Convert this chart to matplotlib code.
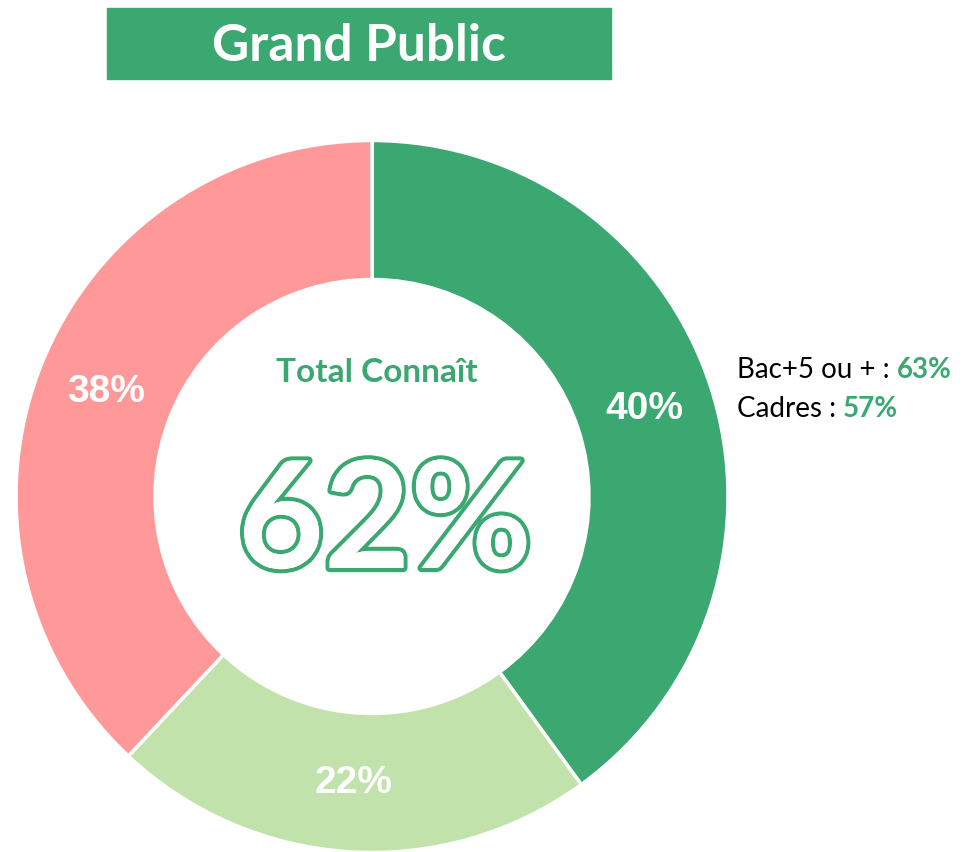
import matplotlib.pyplot as plt
import matplotlib.patheffects as pe
from matplotlib.patches import Rectangle

# ---------- Data ----------
labels = ["Connaît bien", "Connaît de nom", "Ne connaît pas"]
values = [40, 22, 38]
colors = ["#3aa870", "#c1e2ab", "#ff9999"]
title = "Grand Public"
total_label = "Total Connaît"
total_value = "62%"
side_labels = ["Bac+5 ou + : ", "Cadres : "]
side_values = ["63%", "57%"]

W, H = 964, 853
green = "#3aa870"

fig = plt.figure(figsize=(W / 100, H / 100), dpi=100)
ax = fig.add_axes([0, 0, 1, 1])


def Y(y):
    # pixel row from top -> data y
    return H - y


# ---------- Donut ----------
cx, cy, r_out, r_in = 372, Y(497.5), 356, 217
wedges, _, autotexts = ax.pie(
    values, colors=colors, startangle=90, counterclock=False,
    center=(cx, cy), radius=r_out, frame=True,
    autopct="%d%%", pctdistance=(r_out + r_in) / 2 / r_out,
    wedgeprops=dict(width=r_out - r_in, edgecolor="white", linewidth=2.5),
    textprops=dict(color="white", fontsize=28, fontweight="bold",
                   family="Liberation Sans"),
)
ax.set_xlim(0, W)
ax.set_ylim(0, H)
ax.set_aspect("auto")
ax.axis("off")

# ---------- Title box ----------
ax.add_patch(Rectangle((107, Y(80)), 504, 71, color=green, zorder=3))
ax.text(359, Y(46), title, color="white", fontsize=37, fontweight="bold",
        family="Lato", ha="center", va="center", zorder=4)

# ---------- Centre text ----------
ax.text(377, Y(372), total_label, color=green, fontsize=24, fontweight="bold",
        family="Lato", ha="center", va="center")
ax.text(385, Y(526), total_value, color="white", fontsize=107,
        fontweight="bold", family="Lato", ha="center", va="center",
        path_effects=[pe.withStroke(linewidth=6, foreground=green), pe.Normal()])

# ---------- Side notes ----------
renderer = fig.canvas.get_renderer()
for i, (lab, val) in enumerate(zip(side_labels, side_values)):
    y = Y(370 + i * 39)
    t = ax.text(737, y, lab, color="black", fontsize=20, family="Lato",
                ha="left", va="center")
    bb = t.get_window_extent(renderer=renderer)
    x_next = ax.transData.inverted().transform((bb.x1, bb.y0))[0]
    ax.text(x_next, y, val, color=green, fontsize=20, fontweight="bold",
            family="Lato", ha="left", va="center")

fig.savefig("out.png", dpi=100)
